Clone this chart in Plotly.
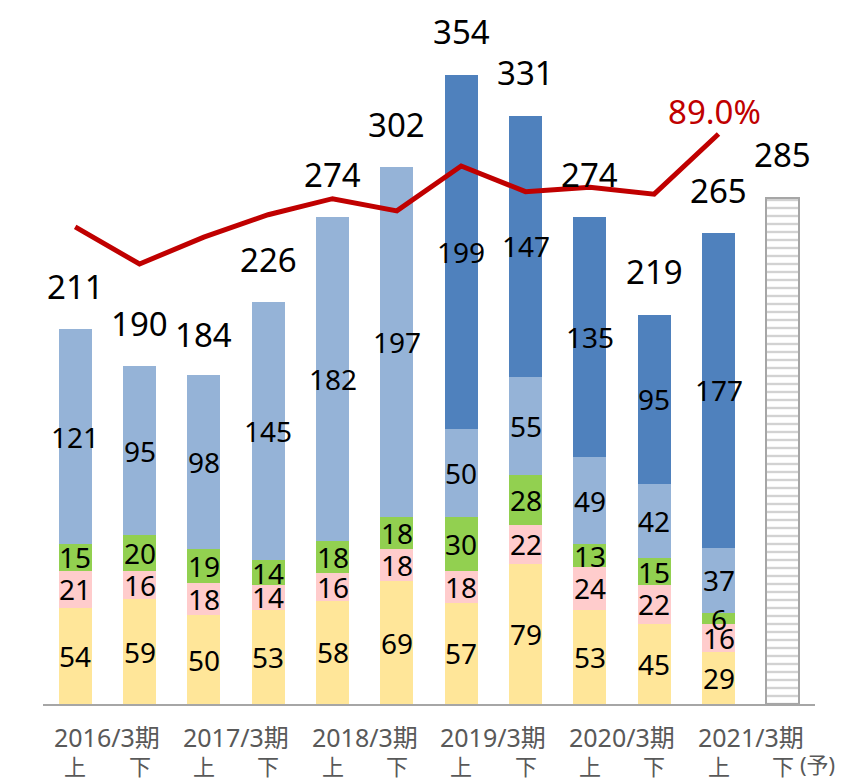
import plotly.graph_objects as go

x_pos = list(range(12))
halves = ["上", "下", "上", "下", "上", "下", "上", "下", "上", "下", "上", "下"]
years = ["2016/3期", "2017/3期", "2018/3期", "2019/3期", "2020/3期", "2021/3期"]

seg_yellow = [54, 59, 50, 53, 58, 69, 57, 79, 53, 45, 29, None]
seg_pink = [21, 16, 18, 14, 16, 18, 18, 22, 24, 22, 16, None]
seg_green = [15, 20, 19, 14, 18, 18, 30, 28, 13, 15, 6, None]
seg_lightblue = [121, 95, 98, 145, 182, 197, 50, 55, 49, 42, 37, None]
seg_darkblue = [None, None, None, None, None, None, 199, 147, 135, 95, 177, None]
forecast = [None] * 11 + [285]
totals = [211, 190, 184, 226, 274, 302, 354, 331, 274, 219, 265, 285]
ratio = [74.5, 68.7, 72.9, 76.4, 78.9, 77.0, 84.0, 80.0, 80.7, 79.6, 89.0]

series = [
    (seg_yellow, "#FFE699"),
    (seg_pink, "#FFCCCC"),
    (seg_green, "#92D050"),
    (seg_lightblue, "#95B3D7"),
    (seg_darkblue, "#4F81BD"),
]

FONT = "Noto Sans, Noto Sans CJK JP, sans-serif"
fig = go.Figure()
annotations = []
cum = [0.0] * 12
for vals, color in series:
    fig.add_trace(go.Bar(x=x_pos, y=vals, marker=dict(color=color, line=dict(width=0)),
                         width=0.51, hoverinfo="skip"))
    for i, v in enumerate(vals):
        if v:
            annotations.append(dict(x=i, y=cum[i] + v / 2, xref="x", yref="y", text=str(v),
                                    showarrow=False, font=dict(size=28, color="#000000", family=FONT)))
            cum[i] += v

fig.add_trace(go.Bar(x=x_pos, y=forecast, width=0.51,
                     marker=dict(color="white", line=dict(color="#A6A6A6", width=2),
                                 pattern=dict(shape="-", fgcolor="#A6A6A6", bgcolor="white",
                                              size=8, solidity=0.3)),
                     hoverinfo="skip"))

fig.add_trace(go.Scatter(x=x_pos[:11], y=ratio, yaxis="y2", mode="lines",
                         line=dict(color="#C00000", width=5), hoverinfo="skip"))

for i, t in enumerate(totals):
    annotations.append(dict(x=i, y=t, xref="x", yref="y", text=str(t), showarrow=False,
                            yanchor="middle", yshift=43,
                            font=dict(size=33, color="#000000", family=FONT)))

annotations.append(dict(x=10, y=ratio[10], xref="x", yref="y2", text="89.0%", showarrow=False,
                        yanchor="middle", yshift=23, xshift=-4,
                        font=dict(size=33, color="#C00000", family=FONT)))

for k, yr in enumerate(years):
    annotations.append(dict(x=2 * k + 0.5, y=0, xref="x", yref="paper", text=yr, showarrow=False,
                            yanchor="middle", yshift=-33,
                            font=dict(size=25, color="#595959", family=FONT)))
for i, h in enumerate(halves):
    annotations.append(dict(x=i, y=0, xref="x", yref="paper", text=h, showarrow=False,
                            yanchor="middle", yshift=-62, borderpad=0,
                            font=dict(size=22, color="#595959", family=FONT)))
annotations.append(dict(x=11, y=0, xref="x", yref="paper", text="(予)", showarrow=False,
                        yanchor="middle", yshift=-60, xshift=35, borderpad=0,
                        font=dict(size=22, color="#595959", family=FONT)))

fig.update_layout(
    barmode="stack",
    width=840, height=773,
    margin=dict(l=35, r=33, t=12, b=77),
    plot_bgcolor="white", paper_bgcolor="white",
    showlegend=False,
    xaxis=dict(range=[-0.5, 11.5], showticklabels=False, showgrid=False, zeroline=False,
               showline=True, linecolor="#A6A6A6", linewidth=2, ticks=""),
    yaxis=dict(range=[0, 384.9], visible=False, showgrid=False, zeroline=False),
    yaxis2=dict(range=[0, 106.8], overlaying="y", visible=False, showgrid=False, zeroline=False),
    annotations=annotations,
    font=dict(family=FONT),
)

fig.write_html("out.html")
